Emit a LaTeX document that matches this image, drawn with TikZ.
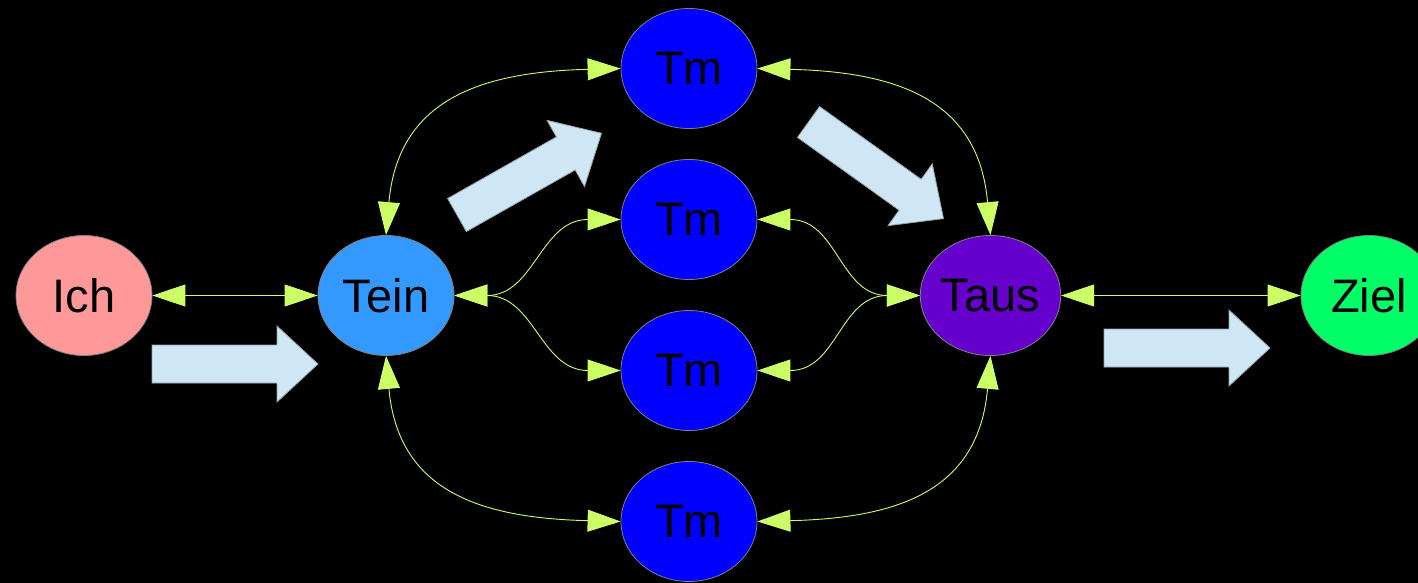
\documentclass[tikz,border=0pt]{standalone}
\usepackage{fontspec}
\setmainfont{Liberation Sans}
\usetikzlibrary{shapes.geometric,arrows.meta}
\definecolor{edgegray}{HTML}{808080}
\definecolor{linkc}{HTML}{CCFF66}
\definecolor{fatc}{HTML}{CFE6F4}
\definecolor{fatedge}{HTML}{9AA3A8}
\definecolor{ichc}{HTML}{FF9999}
\definecolor{teinc}{HTML}{3399FF}
\definecolor{tmc}{HTML}{0000FF}
\definecolor{tausc}{HTML}{6600CC}
\definecolor{zielc}{HTML}{00FF66}
\tikzset{
  fatstyle/.style={fill=fatc, draw=fatedge, line width=0.8pt, line join=miter},
  fatarrow/.pic={\path[fatstyle] (0,-19) -- (125,-19) -- (125,-38) -- (166,0) -- (125,38) -- (125,19) -- (0,19) -- cycle;}
}
\begin{document}
\begin{tikzpicture}[x=1pt,y=-1pt,
  state/.style={ellipse, draw=edgegray, line width=0.8pt, minimum width=136pt, minimum height=120pt, inner sep=0pt, font=\fontsize{47}{56}\selectfont, text=black},
  link/.style={draw=linkc, line width=0.9pt, >={Triangle[length=33pt,width=22pt]}, <->}
]
\useasboundingbox (0,0) rectangle (1418,583);
\fill[black] (0,0) rectangle (1418,583);
\clip (0,0) rectangle (1418,583);

% fat arrows
\pic at (152,364) {fatarrow};
\pic[rotate=29.5] at (457,215) {fatarrow};
\pic[rotate=-35.6] at (808.5,122) {fatarrow};
\pic at (1104,348) {fatarrow};

% nodes
\node[state, fill=ichc] (ich) at (84,295.5) {Ich};
\node[state, fill=teinc] (tein) at (386,295.5) {Tein};
\node[state, fill=tmc] (tm1) at (689,68.5) {Tm};
\node[state, fill=tmc] (tm2) at (689,219.5) {Tm};
\node[state, fill=tmc] (tm3) at (689,370.5) {Tm};
\node[state, fill=tmc] (tm4) at (689,521.5) {Tm};
\node[state, fill=tausc] (taus) at (990.5,295.5) {Taus};
\node[state, fill=zielc] (ziel) at (1369,295.5) {Ziel};

% connectors
\draw[link] (ich) -- (tein);
\draw[link] (tein.north) .. controls +(12,-135) and +(-141,3.5) .. (tm1.west);
\draw[link] (tein.south) .. controls +(12,135) and +(-141,-3.5) .. (tm4.west);
\draw[link] (tein.east) .. controls +(80,0) and +(-80,0) .. (tm2.west);
\draw[link] (tein.east) .. controls +(80,0) and +(-80,0) .. (tm3.west);
\draw[link] (tm1.east) .. controls +(141,3.5) and +(-12,-135) .. (taus.north);
\draw[link] (tm4.east) .. controls +(141,-3.5) and +(-12,135) .. (taus.south);
\draw[link] (tm2.east) .. controls +(80,0) and +(-80,0) .. (taus.west);
\draw[link] (tm3.east) .. controls +(80,0) and +(-80,0) .. (taus.west);
\draw[link] (taus) -- (ziel);
\end{tikzpicture}
\end{document}
